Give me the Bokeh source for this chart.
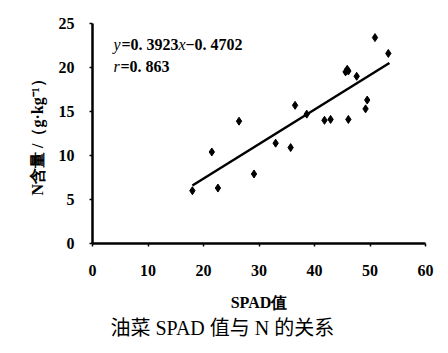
from bokeh.plotting import figure
from bokeh.models import Range1d, Label, FixedTicker, ColumnDataSource, Title
from bokeh.embed import file_html
from bokeh.resources import INLINE

# Data
spad = [18.0, 21.5, 22.6, 26.4, 29.1, 33.0, 35.7, 36.5, 38.6, 41.8, 42.9,
        45.6, 45.9, 46.1, 46.1, 47.6, 49.2, 49.5, 50.9, 53.3]
n_content = [6.0, 10.4, 6.3, 13.9, 7.9, 11.4, 10.9, 15.7, 14.7, 14.0, 14.1,
             19.5, 19.8, 19.6, 14.1, 19.0, 15.3, 16.3, 23.4, 21.6]
slope = 0.3923
intercept = -0.4702
fit_x = [18.0, 53.5]
x_ticks = [0, 10, 20, 30, 40, 50, 60]
y_ticks = [0, 5, 10, 15, 20, 25]

fit_y = [slope * v + intercept for v in fit_x]

p = figure(width=448, height=353, output_backend="svg", toolbar_location=None,
           x_range=Range1d(0, 60), y_range=Range1d(0, 25),
           min_border_left=92, min_border_right=23, min_border_top=23,
           min_border_bottom=110)
p.outline_line_color = None
p.grid.visible = False
p.background_fill_color = "white"
p.border_fill_color = "white"

serif = "Liberation Serif"
for ax in (p.xaxis[0], p.yaxis[0]):
    ax.axis_line_width = 2.5
    ax.axis_line_color = "black"
    ax.major_tick_line_color = "black"
    ax.major_tick_line_width = 1.5
    ax.major_tick_in = 0
    ax.major_tick_out = 3
    ax.minor_tick_line_color = None
    ax.major_label_text_font = serif
    ax.major_label_text_font_style = "bold"
    ax.major_label_text_font_size = "16px"
    ax.major_label_text_color = "black"
    ax.axis_label_text_font = serif
    ax.axis_label_text_font_style = "bold"
    ax.axis_label_text_font_size = "16px"
    ax.axis_label_text_color = "black"

p.xaxis.ticker = FixedTicker(ticks=x_ticks)
p.yaxis.ticker = FixedTicker(ticks=y_ticks)
p.xaxis.major_label_standoff = 18
p.yaxis.major_label_standoff = 15
p.xaxis.axis_label = "SPAD值"
p.xaxis.axis_label_standoff = 15
p.yaxis.axis_label = "N含量 /（g·kg⁻¹）"
p.yaxis.axis_label_standoff = 10

title = Title(text="油菜 SPAD 值与 N 的关系", align="left", offset=18,
              text_font="Liberation Serif, Noto Sans CJK SC", text_font_size="20px",
              text_font_style="normal", text_color="black", standoff=3)
p.add_layout(title, "below")

p.line(fit_x, fit_y, line_color="black", line_width=2.5)
src = ColumnDataSource(dict(x=spad, y=n_content))
p.scatter("x", "y", source=src, marker="diamond", size=8,
          fill_color="black", line_color="black")

eq_parts = [("y", "italic", 0), ("=0. 3923", "bold", 8),
            ("x", "italic", 65), ("−0. 4702", "bold", 72)]
for txt, style, dx in eq_parts:
    p.add_layout(Label(x=21 + dx, y=199, x_units="screen", y_units="screen",
                       text=txt, text_font=serif, text_font_style=style,
                       text_font_size="16px", text_baseline="middle",
                       text_color="black"))
for txt, style, dx in [("r", "italic", 0), ("=0. 863", "bold", 7)]:
    p.add_layout(Label(x=21 + dx, y=177, x_units="screen", y_units="screen",
                       text=txt, text_font=serif, text_font_style=style,
                       text_font_size="16px", text_baseline="middle",
                       text_color="black"))

open("out.html", "w").write(file_html(p, INLINE))
